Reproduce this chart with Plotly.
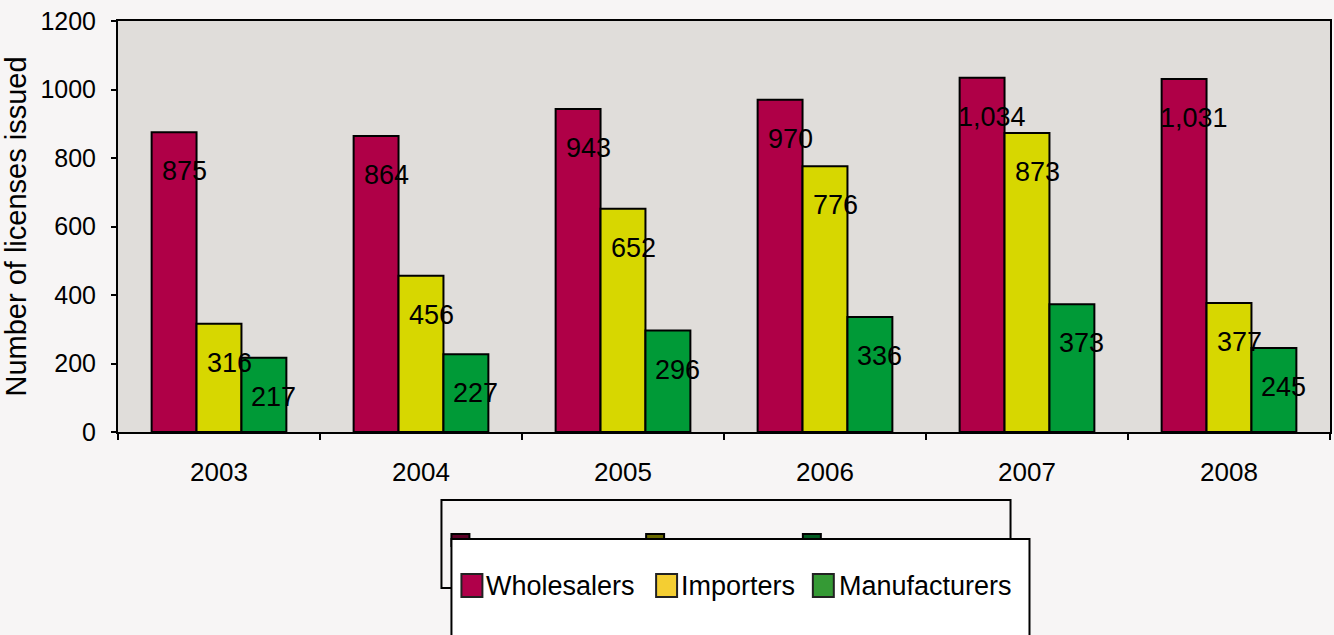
import plotly.graph_objects as go

# ---- data ----
years = ["2003", "2004", "2005", "2006", "2007", "2008"]
wholesalers = [875, 864, 943, 970, 1034, 1031]
importers = [316, 456, 652, 776, 873, 377]
manufacturers = [217, 227, 296, 336, 373, 245]
series_names = ["Wholesalers", "Importers", "Manufacturers"]
y_tick_values = [0, 200, 400, 600, 800, 1000, 1200]

# ---- style ----
bar_colors = ["#AF0047", "#D7D700", "#009A37"]
legend_colors = ["#B0004A", "#F4CE32", "#359A35"]
stub_colors = ["#5C0026", "#6A6A00", "#005A20"]
FONT = "Liberation Sans"
W, H = 1334, 635
PL, PR, PT, PB = 118, 1332, 21, 432  # plot area in pixels

def px_x(px):
    return (px - PL) / (PR - PL)

def px_y(py):
    return (PB - py) / (PB - PT)

series_values = [wholesalers, importers, manufacturers]

fig = go.Figure()
for name, vals, col in zip(series_names, series_values, bar_colors):
    fig.add_trace(go.Bar(
        x=years, y=vals, name=name, showlegend=False,
        marker=dict(color=col, line=dict(color="#000000", width=2)),
    ))

# data labels (x given as category index)
cat_w = (PR - PL) / len(years)
bargap = 0.333
bar_w = cat_w * (1 - bargap) / 3
offsets = [-bar_w, 0, bar_w]
annotations = []
for vals, off in zip(series_values, offsets):
    for i, v in enumerate(vals):
        annotations.append(dict(
            x=i, y=v, xref="x", yref="y", text=f"{v:,}", showarrow=False,
            xshift=off + 10, yshift=-39,
            font=dict(family=FONT, size=27, color="#000000"),
        ))

# legend (drawn as in the reference: an offset back frame plus a front box)
shapes = []
shapes.append(dict(type="rect", xref="paper", yref="paper",
                   x0=px_x(442), x1=px_x(1012), y0=px_y(588), y1=px_y(500),
                   line=dict(color="#000000", width=2), fillcolor="rgba(0,0,0,0)",
                   layer="above"))
for sx, sc in zip([452, 647, 804], stub_colors):
    shapes.append(dict(type="rect", xref="paper", yref="paper",
                       x0=px_x(sx), x1=px_x(sx + 18), y0=px_y(546), y1=px_y(534),
                       line=dict(color="#000000", width=2), fillcolor=sc, layer="above"))
shapes.append(dict(type="rect", xref="paper", yref="paper",
                   x0=px_x(452), x1=px_x(1031), y0=px_y(660), y1=px_y(539),
                   line=dict(color="#000000", width=2), fillcolor="#FFFFFF",
                   layer="above"))
leg_sq_x = [462, 657, 814]
leg_txt_x = [485, 680, 838]
for name, col, sx, tx in zip(series_names, legend_colors, leg_sq_x, leg_txt_x):
    shapes.append(dict(type="rect", xref="paper", yref="paper",
                       x0=px_x(sx), x1=px_x(sx + 21), y0=px_y(597), y1=px_y(574),
                       line=dict(color="#222222", width=2), fillcolor=col, layer="above"))
    annotations.append(dict(
        x=px_x(tx), y=px_y(586), xref="paper", yref="paper", text=name,
        showarrow=False, xanchor="left", yanchor="middle",
        font=dict(family=FONT, size=27, color="#000000"),
    ))

fig.update_layout(
    width=W, height=H, autosize=False,
    margin=dict(l=PL, r=W - PR, t=PT, b=H - PB, pad=0),
    paper_bgcolor="#F7F5F5", plot_bgcolor="#E0DDDA",
    barmode="group", bargap=bargap, bargroupgap=0,
    font=dict(family=FONT, size=25, color="#000000"),
    shapes=shapes, annotations=annotations,
    showlegend=False,
)
fig.update_xaxes(
    type="category", range=[-0.5, len(years) - 0.5], autorange=False,
    showgrid=False, showline=True, linecolor="#000000", linewidth=2,
    mirror=True, ticks="outside", tickson="boundaries", ticklen=6, tickwidth=2,
    tickcolor="#000000", tickfont=dict(family=FONT, size=26), ticklabelstandoff=16,
    tickangle=0,
)
fig.update_yaxes(
    range=[0, 1200], autorange=False, tickvals=y_tick_values,
    ticktext=[str(v) for v in y_tick_values],
    showgrid=False, zeroline=False, showline=True, linecolor="#000000", linewidth=2,
    mirror=True, ticks="outside", ticklen=5, tickwidth=2, tickcolor="#000000",
    tickfont=dict(family=FONT, size=25), ticklabelstandoff=10,
    title=dict(text="Number of licenses issued", font=dict(family=FONT, size=29), standoff=9),
)

fig.write_html("out.html")
